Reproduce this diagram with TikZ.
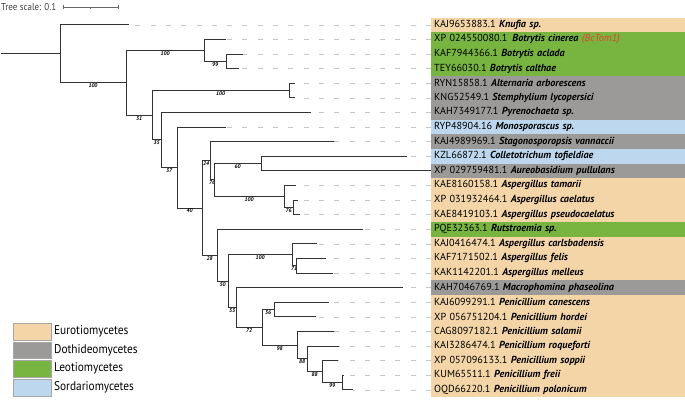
\documentclass[tikz,border=0pt]{standalone}
\usepackage{fontspec}
\setmainfont{PT Sans}
\newfontfamily\legendfont[FakeStretch=0.9]{PT Sans}
\usepackage{xcolor}
\usetikzlibrary{calc}

\definecolor{euro}{HTML}{F3D5A8}
\definecolor{doth}{HTML}{9C9A98}
\definecolor{leo}{HTML}{77B540}
\definecolor{sord}{HTML}{BDD8EE}
\definecolor{tomred}{HTML}{E8412E}

% species name in the label column
\newcommand{\species}[1]{\textbf{\textit{#1}}}
% internal node: name, x, the two children
\newcommand{\clade}[4]{%
  \path let \p1=($(#3)!.5!(#4)$) in coordinate (#1) at (#2pt,\y1);}

\tikzset{
  branch/.style={draw=black!80, line width=0.9pt},
  boot/.style={pos=0.75, below, inner sep=0.6pt, font=\fontsize{5.5}{5.5}\selectfont\bfseries\itshape},
  leader/.style={draw=black!22, line width=0.6pt, dash pattern=on 5pt off 10.3pt},
  taxon/.style={anchor=west, fill=#1, text width=248pt, inner xsep=3pt, inner ysep=0pt,
    minimum height=14.6pt, font=\fontsize{10.2}{11}\selectfont},
  legbox/.style={draw=black!35, fill=#1, minimum width=38pt, minimum height=16.5pt,
    inner sep=0pt, anchor=north west},
  legtext/.style={anchor=west, inner sep=0pt, font=\legendfont\fontsize{12.6}{13}\selectfont},
}

\begin{document}
\begin{tikzpicture}[x=1pt, y=-1pt]
\useasboundingbox (0,0) rectangle (685,400);

% tips and labels
\foreach \tx/\col/\txt [count=\i] in {
  129/euro/{KAJ9653883.1 \species{Knufia sp.}},
  226/leo/{XP 024550080.1\,\ \species{Botrytis cinerea} {\color{tomred}\textit{(BcTom1)}}},
  243/leo/{KAF7944366.1 \species{Botrytis aclada}},
  239/leo/{TEY66030.1 \species{Botrytis calthae}},
  295/doth/{RYN15858.1 \species{Alternaria arborescens}},
  295/doth/{KNG52549.1 \species{Stemphylium lycopersici}},
  311/doth/{KAH7349177.1 \species{Pyrenochaeta sp.}},
  226/sord/{RYP48904.16 \species{Monosporascus sp.}},
  334/doth/{KAJ4989969.1 \species{Stagonosporopsis vannaccii}},
  407/sord/{KZL66872.1 \species{Colletotrichum tofieldiae}},
  431/doth/{XP 029759481.1 \species{Aureobasidium pullulans}},
  296/euro/{KAE8160158.1 \species{Aspergillus tamarii}},
  298/euro/{XP 031932464.1 \species{Aspergillus caelatus}},
  300/euro/{KAE8419103.1 \species{Aspergillus pseudocaelatus}},
  363/leo/{PQE32363.1 \species{Rutstroemia sp.}},
  317/euro/{KAJ0416474.1 \species{Aspergillus carlsbadensis}},
  326/euro/{KAF7171502.1 \species{Aspergillus felis}},
  333/euro/{KAK1142201.1 \species{Aspergillus melleus}},
  403/doth/{KAH7046769.1 \species{Macrophomina phaseolina}},
  329/euro/{KAJ6099291.1 \species{Penicillium canescens}},
  316/euro/{XP 056751204.1 \species{Penicillium hordei}},
  334/euro/{CAG8097182.1 \species{Penicillium salamii}},
  339/euro/{KAI3286474.1 \species{Penicillium roqueforti}},
  338/euro/{XP 057096133.1 \species{Penicillium soppii}},
  344/euro/{KUM65511.1 \species{Penicillium freii}},
  353/euro/{OQD66220.1 \species{Penicillium polonicum}}}{
  \coordinate (t\i) at (\tx, {17.5+14.6*(\i-0.5)});
  \node[taxon=\col] (lab\i) at (431, {17.5+14.6*(\i-0.5)}) {\txt};
}
\foreach \i in {1,...,26}
  \draw[leader] (lab\i.west) -- (t\i);

% internal nodes, from the tips down to the root
\clade{n4}{226}{t3}{t4}
\clade{n3}{204}{t2}{n4}
\clade{n6}{289}{t5}{t6}
\clade{n12}{261}{t10}{t11}
\clade{n14}{293}{t13}{t14}
\clade{n13}{284}{t12}{n14}
\clade{n11}{214}{n12}{n13}
\clade{n10}{210}{t9}{n11}
\clade{n18}{296}{t17}{t18}
\clade{n17}{292}{t16}{n18}
\clade{n21}{274}{t20}{t21}
\clade{n25}{342}{t25}{t26}
\clade{n24}{322}{t24}{n25}
\clade{n23}{307}{t23}{n24}
\clade{n22}{297}{t22}{n23}
\clade{n20}{262}{n21}{n22}
\clade{n19}{236}{t19}{n20}
\clade{n16}{228}{n17}{n19}
\clade{n15}{217}{t15}{n16}
\clade{n9}{202}{n10}{n15}
\clade{n8}{177}{t8}{n9}
\clade{n7}{161}{t7}{n8}
\clade{n5}{152}{n6}{n7}
\clade{n2}{126}{n3}{n5}
\clade{n1}{60}{t1}{n2}
\coordinate (root) at (n1 -| 1,0);

% branches
\draw[branch] (root) -- (n1);
\draw[branch] (n1) |- (t1);
\draw[branch] (n1) |- node[boot]{100} (n2);
\draw[branch] (n2) |- node[boot]{100} (n3);
\draw[branch] (n2) |- node[boot]{51} (n5);
\draw[branch] (n3) |- (t2);
\draw[branch] (n3) |- node[boot]{99} (n4);
\draw[branch] (n4) |- (t3);
\draw[branch] (n4) |- (t4);
\draw[branch] (n5) |- node[boot]{100} (n6);
\draw[branch] (n5) |- node[boot]{35} (n7);
\draw[branch] (n6) |- (t5);
\draw[branch] (n6) |- (t6);
\draw[branch] (n7) |- (t7);
\draw[branch] (n7) |- node[boot]{37} (n8);
\draw[branch] (n8) |- (t8);
\draw[branch] (n8) |- node[boot]{40} (n9);
\draw[branch] (n9) |- node[boot]{24} (n10);
\draw[branch] (n9) |- node[boot]{28} (n15);
\draw[branch] (n10) |- (t9);
\draw[branch] (n10) |- node[boot]{76} (n11);
\draw[branch] (n11) |- node[boot]{60} (n12);
\draw[branch] (n11) |- node[boot]{100} (n13);
\draw[branch] (n12) |- (t10);
\draw[branch] (n12) |- (t11);
\draw[branch] (n13) |- (t12);
\draw[branch] (n13) |- node[boot]{76} (n14);
\draw[branch] (n14) |- (t13);
\draw[branch] (n14) |- (t14);
\draw[branch] (n15) |- (t15);
\draw[branch] (n15) |- node[boot]{50} (n16);
\draw[branch] (n16) |- node[boot]{100} (n17);
\draw[branch] (n16) |- node[boot]{53} (n19);
\draw[branch] (n17) |- (t16);
\draw[branch] (n17) |- node[boot]{71} (n18);
\draw[branch] (n18) |- (t17);
\draw[branch] (n18) |- (t18);
\draw[branch] (n19) |- (t19);
\draw[branch] (n19) |- node[boot]{72} (n20);
\draw[branch] (n20) |- node[boot]{56} (n21);
\draw[branch] (n20) |- node[boot]{98} (n22);
\draw[branch] (n21) |- (t20);
\draw[branch] (n21) |- (t21);
\draw[branch] (n22) |- (t22);
\draw[branch] (n22) |- node[boot]{88} (n23);
\draw[branch] (n23) |- (t23);
\draw[branch] (n23) |- node[boot]{88} (n24);
\draw[branch] (n24) |- (t24);
\draw[branch] (n24) |- node[boot]{99} (n25);
\draw[branch] (n25) |- (t25);
\draw[branch] (n25) |- (t26);

% tree scale
\node[anchor=west, inner sep=0pt, text=black!75, font=\legendfont\fontsize{10}{11}\selectfont] (scale) at (1,7) {Tree scale: 0.1};
\coordinate (bar0) at (63,7);
\coordinate (bar1) at (118,7);
\draw[black!60, line width=0.6pt] (bar0) -- (bar1);
\draw[black!60, line width=0.6pt] (bar0) ++(0,-2) -- ++(0,4);
\draw[black!60, line width=0.6pt] (bar1) ++(0,-2) -- ++(0,4);
\draw[black!60, line width=0.5pt] ($(bar0)!.5!(bar1)$) -- ++(0,1.5);

% legend
\node[legbox=euro] (boxE) at (13,323) {};
\node[legbox=doth] (boxD) at (13,341.7) {};
\node[legbox=leo] (boxL) at (13,360.3) {};
\node[legbox=sord] (boxS) at (13,379) {};
\node[legtext] (legE) at ([xshift=2.5pt]boxE.east) {Eurotiomycetes};
\node[legtext] (legD) at ([xshift=2.5pt]boxD.east) {Dothideomycetes};
\node[legtext] (legL) at ([xshift=2.5pt]boxL.east) {Leotiomycetes};
\node[legtext] (legS) at ([xshift=2.5pt]boxS.east) {Sordariomycetes};
\end{tikzpicture}
\end{document}
